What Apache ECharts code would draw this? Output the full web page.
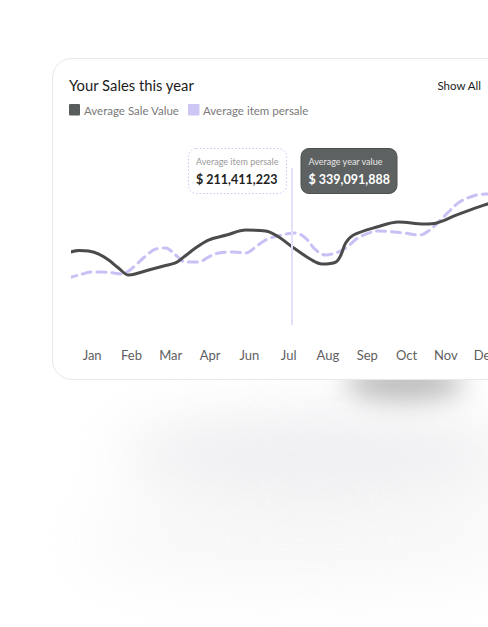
<!DOCTYPE html>
<html>
<head>
<meta charset="utf-8">
<script src="https://cdn.jsdelivr.net/npm/echarts@6/dist/echarts.min.js"></script>
<style>
  html, body { margin: 0; padding: 0; width: 488px; height: 627px; overflow: hidden; background: #ffffff; }
  .blob1 { position: absolute; left: 345px; top: 366px; width: 120px; height: 34px; background: #8c8c8c; border-radius: 50%; filter: blur(13px); opacity: 0.6; }
  .blob2 { position: absolute; left: 120px; top: 415px; width: 400px; height: 80px; background: #e4e4e8; border-radius: 50%; filter: blur(30px); opacity: 0.65; }
  .blob3 { position: absolute; left: 80px; top: 490px; width: 460px; height: 100px; background: #f3f3f3; border-radius: 50%; filter: blur(30px); opacity: 0.6; }
  .card { position: absolute; left: 52px; top: 58px; width: 490px; height: 322px; background: #ffffff; border: 1px solid #e8e8e8; border-radius: 20px; box-sizing: border-box; }
  #chart { position: absolute; left: 0; top: 0; width: 560px; height: 627px; }
</style>
</head>
<body>
<div class="blob3"></div>
<div class="blob2"></div>
<div class="blob1"></div>
<div class="card"></div>
<div id="chart"></div>
<script>
// ---- data ----
const months = ['Jan', 'Feb', 'Mar', 'Apr', 'Jun', 'Jul', 'Aug', 'Sep', 'Oct', 'Nov', 'Dec'];

// Average Sale Value (solid line): x position in month units (Jan = 0), value
const saleX = [-0.62, -0.34, -0.09, 0.17, 0.42, 0.67, 0.93, 1.18, 1.44, 1.82, 2.12, 2.33, 2.63, 2.96, 3.42, 3.91, 4.41, 4.75, 5.13, 5.59, 5.85, 6.20, 6.33, 6.45, 6.65, 7.24, 7.80, 8.44, 8.77, 9.28, 9.97, 10.45];
const saleY = [45.9, 47.5, 47.1, 45.2, 41.4, 36.3, 31.8, 33.1, 35.0, 37.6, 39.5, 43.3, 49.0, 54.1, 57.3, 60.5, 59.9, 56.1, 49.0, 41.4, 38.9, 40.1, 44.6, 52.2, 57.3, 62.4, 65.6, 64.3, 65.0, 70.1, 76.4, 79.6];

// Average item persale (dashed line)
const itemX = [-0.62, -0.34, -0.01, 0.24, 0.55, 0.75, 0.93, 1.11, 1.36, 1.62, 1.87, 2.12, 2.38, 2.71, 2.96, 3.22, 3.60, 3.91, 4.16, 4.41, 4.82, 5.18, 5.43, 5.69, 5.94, 6.20, 6.45, 6.81, 7.31, 7.93, 8.33, 8.59, 8.94, 9.35, 9.78, 10.04, 10.45];
const itemY = [29.9, 31.8, 33.8, 33.8, 33.1, 32.5, 34.4, 38.2, 43.9, 48.4, 49.0, 44.6, 40.1, 40.1, 43.3, 45.9, 46.5, 45.9, 49.7, 54.1, 57.3, 58.6, 55.4, 47.8, 44.6, 45.9, 49.0, 56.1, 59.9, 58.6, 57.3, 60.5, 68.8, 78.3, 82.8, 83.4, 82.2];

const highlightX = 5.08;           // Jul cursor position
const itemPersaleValue = '$ 211,411,223';
const yearValue = '$ 339,091,888';

const seriesNames = ['Average Sale Value', 'Average item persale'];
const colors = ['#4a4c4c', '#c9c1f5'];

// ---- chart ----
const chart = echarts.init(document.getElementById('chart'), null, { renderer: 'svg' });
const FONT = 'Lato';
const pairs = (xs, ys) => xs.map((x, i) => [x, ys[i]]);

chart.setOption({
  animation: false,
  grid: { left: 72.5, top: 168, width: 432.3, height: 157, containLabel: false },
  xAxis: [
    {
      type: 'category', data: months, boundaryGap: true,
      axisLine: { show: false }, axisTick: { show: false }, splitLine: { show: false },
      axisLabel: { color: '#606060', fontSize: 13, fontFamily: FONT, margin: 23 }
    },
    { type: 'value', min: -0.5, max: 10.5, show: false }
  ],
  yAxis: { type: 'value', min: 0, max: 100, show: false },
  series: [
    {
      name: seriesNames[1], type: 'line', xAxisIndex: 1, data: pairs(itemX, itemY),
      smooth: 0.35, showSymbol: false, clip: false,
      lineStyle: { color: colors[1], width: 3, type: [9, 6], cap: 'round' },
      markLine: {
        silent: true, symbol: 'none', label: { show: false },
        lineStyle: { color: '#e4e0fb', width: 2, type: 'solid' },
        data: [{ xAxis: highlightX }]
      }
    },
    {
      name: seriesNames[0], type: 'line', xAxisIndex: 1, data: pairs(saleX, saleY),
      smooth: 0.35, showSymbol: false, clip: false,
      lineStyle: { color: colors[0], width: 3, cap: 'round' }
    }
  ],
  graphic: [
    { type: 'text', x: 69, y: 84.5, style: { text: 'Your Sales this year', fontSize: 14.8, fontWeight: 'normal', fontFamily: FONT, fill: '#1c1c1c', align: 'left', verticalAlign: 'middle' } },
    { type: 'text', x: 481, y: 85, style: { text: 'Show All', fontSize: 11.5, fontWeight: 'normal', fontFamily: FONT, fill: '#1c1c1c', align: 'right', verticalAlign: 'middle' } },
    { type: 'rect', shape: { x: 69, y: 104, width: 11, height: 11.5, r: 1 }, style: { fill: '#585c5c' } },
    { type: 'text', x: 84, y: 110, style: { text: seriesNames[0], fontSize: 11.5, fontFamily: FONT, fill: '#7a7a7a', align: 'left', verticalAlign: 'middle' } },
    { type: 'rect', shape: { x: 188, y: 104, width: 11.5, height: 11.5, r: 1 }, style: { fill: '#cdc7f6' } },
    { type: 'text', x: 203, y: 110, style: { text: seriesNames[1], fontSize: 11.5, fontFamily: FONT, fill: '#7a7a7a', align: 'left', verticalAlign: 'middle' } },
    // tooltip 1 (dotted)
    { type: 'rect', shape: { x: 188.5, y: 148.5, width: 98, height: 45, r: 8 }, style: { fill: '#ffffff', stroke: '#cbc4f5', lineWidth: 1, lineDash: [1.5, 2] } },
    { type: 'text', x: 196, y: 161.5, style: { text: seriesNames[1], fontSize: 9, fontFamily: FONT, fill: '#9a9a9a', align: 'left', verticalAlign: 'middle' } },
    { type: 'text', x: 196, y: 179.5, style: { text: itemPersaleValue, fontSize: 12.5, fontWeight: 'bold', fontFamily: FONT, fill: '#1f1f1f', align: 'left', verticalAlign: 'middle' } },
    // tooltip 2 (dark)
    { type: 'rect', shape: { x: 301, y: 148.5, width: 96, height: 45, r: 8 }, style: { fill: '#5e6161', stroke: '#4c4f4f', lineWidth: 1 } },
    { type: 'text', x: 308.5, y: 161.5, style: { text: 'Average year value', fontSize: 9, fontFamily: FONT, fill: '#e6e6e6', align: 'left', verticalAlign: 'middle' } },
    { type: 'text', x: 308.5, y: 179.5, style: { text: yearValue, fontSize: 12.5, fontWeight: 'bold', fontFamily: FONT, fill: '#ffffff', align: 'left', verticalAlign: 'middle' } }
  ]
});
</script>
</body>
</html>
